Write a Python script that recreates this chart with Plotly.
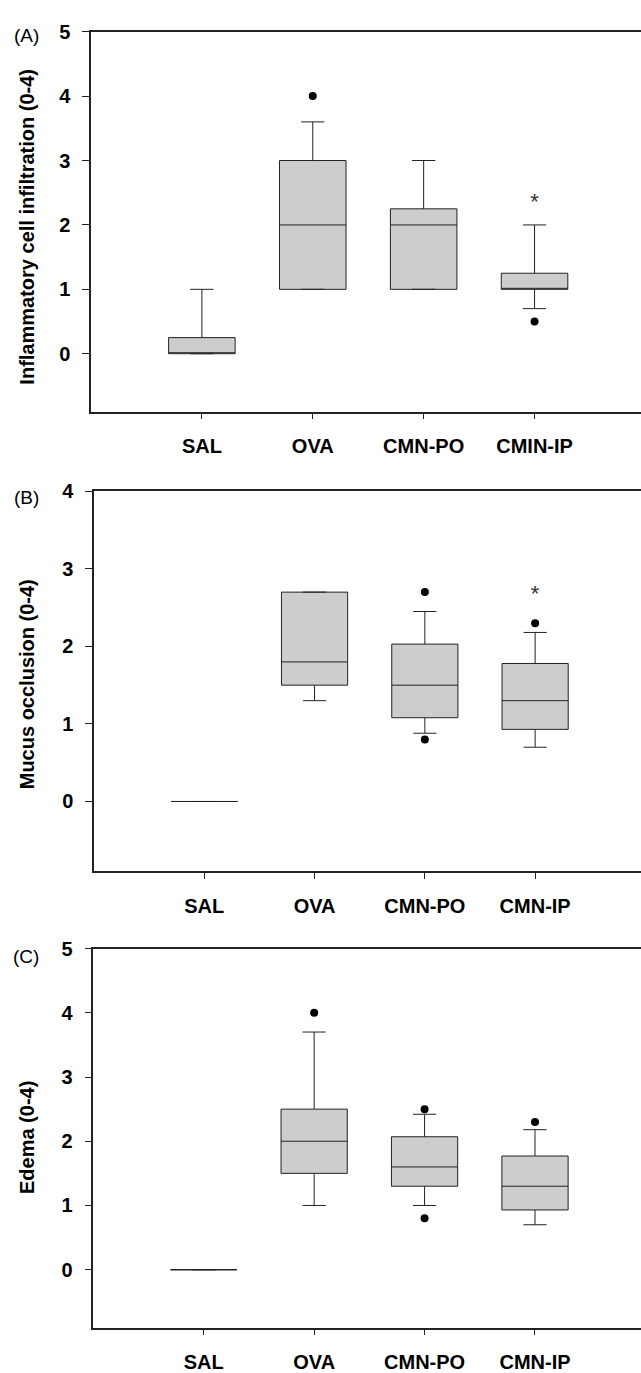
import plotly.graph_objects as go

# ---------------- data ----------------
positions = [1, 2, 3, 4]
cats_A = ["SAL", "OVA", "CMN-PO", "CMIN-IP"]
cats_BC = ["SAL", "OVA", "CMN-PO", "CMN-IP"]

# Panel A: Inflammatory cell infiltration
A_q1 = [0.0, 1.0, 1.0, 1.0]
A_med = [0.0, 2.0, 2.0, 1.0]
A_q3 = [0.25, 3.0, 2.25, 1.25]
A_lo = [0.0, 1.0, 1.0, 0.7]
A_hi = [1.0, 3.6, 3.0, 2.0]
A_out_x = [2, 4]
A_out_y = [4.0, 0.5]
A_star_x = [4]
A_star_y = [2.5]

# Panel B: Mucus occlusion
B_q1 = [0.0, 1.5, 1.08, 0.93]
B_med = [0.0, 1.8, 1.5, 1.3]
B_q3 = [0.0, 2.7, 2.03, 1.78]
B_lo = [0.0, 1.3, 0.88, 0.7]
B_hi = [0.0, 2.7, 2.45, 2.18]
B_out_x = [3, 3, 4]
B_out_y = [2.7, 0.8, 2.3]
B_star_x = [4]
B_star_y = [2.8]

# Panel C: Edema
C_q1 = [0.0, 1.5, 1.3, 0.93]
C_med = [0.0, 2.0, 1.6, 1.3]
C_q3 = [0.0, 2.5, 2.07, 1.77]
C_lo = [0.0, 1.0, 1.0, 0.7]
C_hi = [0.0, 3.7, 2.42, 2.18]
C_out_x = [2, 3, 3, 4]
C_out_y = [4.0, 2.5, 0.8, 2.3]

FONT = "Liberation Sans, Arial, sans-serif"
BOX_FILL = "#cdcdcd"
LINE = "#222222"

fig = go.Figure()

panels = [
    ("x", "y", cats_A, A_q1, A_med, A_q3, A_lo, A_hi, A_out_x, A_out_y, A_star_x, A_star_y),
    ("x2", "y2", cats_BC, B_q1, B_med, B_q3, B_lo, B_hi, B_out_x, B_out_y, B_star_x, B_star_y),
    ("x3", "y3", cats_BC, C_q1, C_med, C_q3, C_lo, C_hi, C_out_x, C_out_y, [], []),
]

for xa, ya, cats, q1, med, q3, lo, hi, ox, oy, sx, sy in panels:
    for i, p in enumerate(positions):
        fig.add_trace(go.Box(
            x=[p], q1=[q1[i]], median=[med[i]], q3=[q3[i]],
            lowerfence=[lo[i]], upperfence=[hi[i]],
            width=0.6, whiskerwidth=0.35, boxpoints=False,
            fillcolor=BOX_FILL, line=dict(color=LINE, width=1),
            xaxis=xa, yaxis=ya, showlegend=False, hoverinfo="skip",
        ))
    fig.add_trace(go.Scatter(
        x=ox, y=oy, mode="markers",
        marker=dict(color="black", size=8),
        xaxis=xa, yaxis=ya, showlegend=False, hoverinfo="skip",
    ))
    if sx:
        fig.add_trace(go.Scatter(
            x=sx, y=sy, mode="text", text=["*"] * len(sx),
            textposition="bottom center",
            textfont=dict(family=FONT, size=22, color="#333"),
            xaxis=xa, yaxis=ya, showlegend=False, hoverinfo="skip",
        ))

def xaxis_cfg(domain, anchor, cats):
    return dict(
        domain=domain, anchor=anchor, range=[0, 4.96],
        tickmode="array", tickvals=positions, ticktext=cats,
        ticks="outside", ticklen=6, tickwidth=1, tickcolor=LINE,
        showline=True, linecolor=LINE, linewidth=1.5, mirror=True,
        showgrid=False, zeroline=False, ticklabelstandoff=10,
        tickfont=dict(family=FONT, size=20, color="black", weight="bold"),
    )

def yaxis_cfg(domain, anchor, top):
    return dict(
        domain=domain, anchor=anchor, range=[-0.9, top],
        tickmode="array", tickvals=list(range(0, int(top) + 1)),
        ticks="outside", ticklen=7, tickwidth=1, tickcolor=LINE,
        showline=True, linecolor=LINE, linewidth=1.5, mirror=False,
        showgrid=False, zeroline=False, ticklabelstandoff=8,
        tickfont=dict(family=FONT, size=20, color="black", weight="bold"),
    )

H = 1373.0
W = 641.0
fig.update_layout(
    width=641, height=1373,
    margin=dict(l=0, r=0, t=0, b=0),
    paper_bgcolor="white", plot_bgcolor="white",
    xaxis=xaxis_cfg([91 / W, 1.0], "y", cats_A),
    yaxis=yaxis_cfg([1 - 406 / H, 1 - 21 / H], "x", 5),
    xaxis2=xaxis_cfg([94 / W, 1.0], "y2", cats_BC),
    yaxis2=yaxis_cfg([1 - 871.7 / H, 1 - 486.7 / H], "x2", 4),
    xaxis3=xaxis_cfg([93.3 / W, 1.0], "y3", cats_BC),
    yaxis3=yaxis_cfg([1 - 1334 / H, 1 - 950 / H], "x3", 5),
)

titles = [
    ("Inflammatory cell infiltration (0-4)", (21 + 406) / 2 + 5),
    ("Mucus occlusion (0-4)", (486.7 + 871.7) / 2 + 3),
    ("Edema (0-4)", (950 + 1334) / 2),
]
for txt, yc in titles:
    fig.add_annotation(
        text=txt, xref="paper", yref="paper",
        x=27 / W, y=1 - yc / H, xanchor="center", yanchor="middle",
        textangle=-90, showarrow=False,
        font=dict(family=FONT, size=20, color="black", weight="bold"),
    )

letters = [("(A)", 25), ("(B)", 493), ("(C)", 958)]
for txt, yc in letters:
    fig.add_annotation(
        text=txt, xref="paper", yref="paper",
        x=26 / W, y=1 - yc / H, xanchor="center", yanchor="middle",
        showarrow=False,
        font=dict(family=FONT, size=19, color="black"),
    )

fig.write_html(
    "out.html",
    config={"displayModeBar": False},
    post_script="document.body.style.margin='0';document.body.style.overflow='hidden';",
)
